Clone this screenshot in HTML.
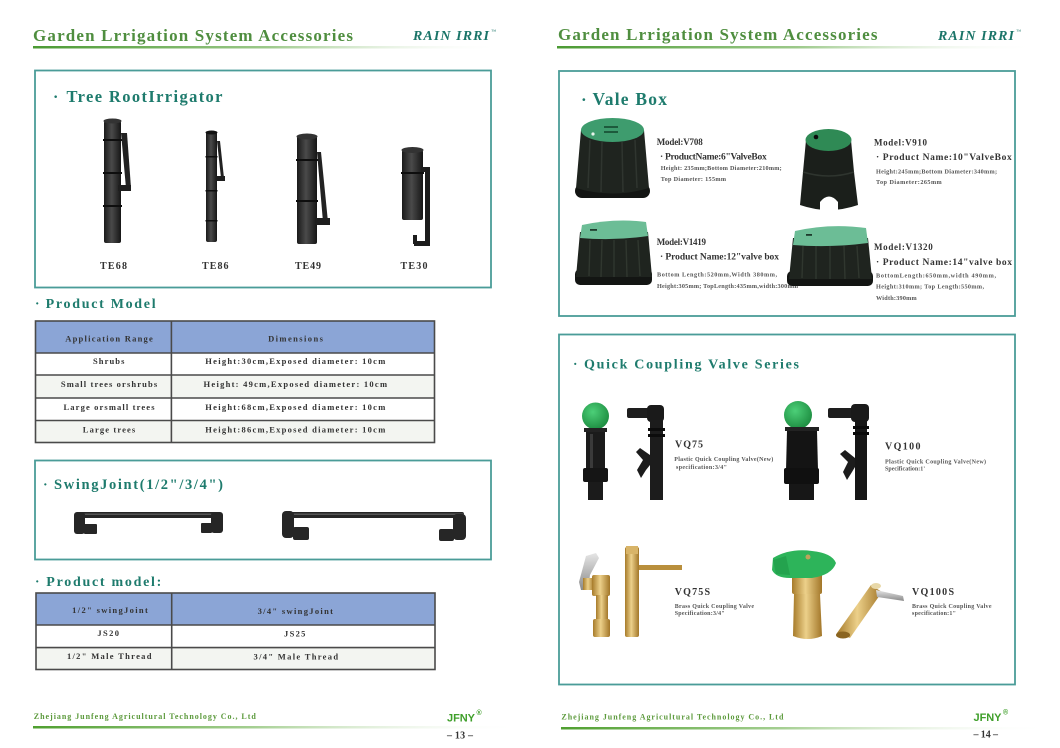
<!DOCTYPE html>
<html><head><meta charset="utf-8"><style>
html,body{margin:0;padding:0;background:#fff;}
svg{display:block;}
</style></head><body>
<svg width="1060" height="748" viewBox="0 0 1060 748" xmlns="http://www.w3.org/2000/svg" font-family="'Liberation Serif', serif">
<defs>
<linearGradient id="hl" x1="0" x2="1"><stop offset="0" stop-color="#4b9a33"/><stop offset="0.5" stop-color="#9cc98a"/><stop offset="1" stop-color="#ffffff" stop-opacity="0"/></linearGradient>
<linearGradient id="fl" x1="0" x2="1"><stop offset="0" stop-color="#4f9f2f"/><stop offset="0.45" stop-color="#a5cf92"/><stop offset="1" stop-color="#ffffff" stop-opacity="0"/></linearGradient>
<linearGradient id="brass" x1="0" x2="1"><stop offset="0" stop-color="#a77b2a"/><stop offset="0.45" stop-color="#ecd08a"/><stop offset="1" stop-color="#a27628"/></linearGradient>
<linearGradient id="tube" x1="0" x2="1"><stop offset="0" stop-color="#1a1a1a"/><stop offset="0.45" stop-color="#4a4a4a"/><stop offset="1" stop-color="#161616"/></linearGradient>
<linearGradient id="silver" x1="0" x2="0" y1="0" y2="1"><stop offset="0" stop-color="#e6e6e6"/><stop offset="1" stop-color="#8a8a8a"/></linearGradient>
<radialGradient id="ball" cx="0.4" cy="0.35" r="0.7"><stop offset="0" stop-color="#4ccf78"/><stop offset="1" stop-color="#1b8a3e"/></radialGradient>
</defs>
<rect width="1060" height="748" fill="#fff"/>

<!-- ================= LEFT PAGE ================= -->
<text x="33" y="41" font-size="17" font-weight="bold" fill="#4f8e3f" textLength="320" lengthAdjust="spacing">Garden Lrrigation System Accessories</text>
<text x="413" y="40" font-size="14" font-weight="bold" font-style="italic" fill="#1a7468" textLength="76" lengthAdjust="spacing">RAIN IRRI</text>
<text x="491" y="33" font-size="5" fill="#1a7468">™</text>
<rect x="33" y="46" width="470" height="2.5" fill="url(#hl)"/>

<rect x="35" y="70.5" width="456" height="217" fill="none" stroke="#4a9c98" stroke-width="1.8"/>
<text x="53" y="102" font-size="16" font-weight="bold" fill="#1e7b6d">·</text>
<text x="66.5" y="102" font-size="16.5" font-weight="bold" fill="#1e7b6d" textLength="156" lengthAdjust="spacing">Tree RootIrrigator</text>

<!-- TE68 -->
<g>
<rect x="104" y="121" width="17" height="122" rx="2" fill="url(#tube)"/>
<ellipse cx="112.5" cy="121" rx="9" ry="2.5" fill="#333"/>
<rect x="103" y="139" width="19" height="2" fill="#0e0e0e"/>
<rect x="103" y="172" width="19" height="2" fill="#0e0e0e"/>
<rect x="103" y="205" width="19" height="2" fill="#0e0e0e"/>
<path d="M121 133 L127 133 L131 188 L126 188 Z" fill="#222"/>
<rect x="118" y="185" width="13" height="6" fill="#1e1e1e"/>
</g>
<!-- TE86 -->
<g>
<rect x="206" y="132" width="11" height="110" rx="2" fill="url(#tube)"/>
<ellipse cx="211.5" cy="132.5" rx="6" ry="2" fill="#111"/>
<rect x="205.5" y="156" width="12" height="1.5" fill="#0e0e0e"/>
<rect x="205.5" y="190" width="12" height="1.5" fill="#0e0e0e"/>
<rect x="205.5" y="220" width="12" height="1.5" fill="#0e0e0e"/>
<path d="M217 141 L220 141 L224 178 L221 178 Z" fill="#222"/>
<rect x="216" y="176" width="9" height="5" fill="#1e1e1e"/>
</g>
<!-- TE49 -->
<g>
<rect x="297" y="136" width="20" height="108" rx="2" fill="url(#tube)"/>
<ellipse cx="307" cy="136.5" rx="10.5" ry="3" fill="#333"/>
<rect x="296" y="159" width="22" height="2" fill="#0e0e0e"/>
<rect x="296" y="200" width="22" height="2" fill="#0e0e0e"/>
<path d="M317 152 L321 152 L328 222 L323 222 Z" fill="#222"/>
<rect x="316" y="218" width="14" height="7" fill="#1e1e1e"/>
</g>
<!-- TE30 -->
<g>
<rect x="402" y="150" width="21" height="70" rx="2" fill="url(#tube)"/>
<ellipse cx="412.5" cy="150" rx="11" ry="3" fill="#333"/>
<rect x="401" y="172" width="23" height="2" fill="#0e0e0e"/>
<rect x="422" y="167" width="8" height="5" fill="#1e1e1e"/>
<rect x="425" y="168" width="5" height="78" fill="#1c1c1c"/>
<rect x="414" y="241" width="16" height="5" fill="#1c1c1c"/>
<rect x="413" y="235" width="4" height="9" fill="#1c1c1c"/>
</g>

<g font-size="10" font-weight="bold" fill="#333">
<text x="100" y="269" textLength="27" lengthAdjust="spacing">TE68</text>
<text x="202" y="269" textLength="26.5" lengthAdjust="spacing">TE86</text>
<text x="295" y="269" textLength="26" lengthAdjust="spacing">TE49</text>
<text x="400.5" y="269" textLength="27" lengthAdjust="spacing">TE30</text>
</g>

<text x="35" y="308" font-size="13.5" font-weight="bold" fill="#1e7b6d">·</text>
<text x="45.6" y="308" font-size="14" font-weight="bold" fill="#1e7b6d" textLength="110" lengthAdjust="spacing">Product Model</text>

<!-- Table 1 -->
<rect x="35.5" y="321" width="399" height="32" fill="#8ba5d6"/>
<rect x="35.5" y="375" width="399" height="23" fill="#f3f5f1"/>
<rect x="35.5" y="420.5" width="399" height="22" fill="#f3f5f1"/>
<g stroke="#4a4a4a" stroke-width="1.6" fill="none">
<rect x="35.5" y="321" width="399" height="121.5"/>
<line x1="35.5" y1="353" x2="434.5" y2="353"/>
<line x1="35.5" y1="375" x2="434.5" y2="375"/>
<line x1="35.5" y1="398" x2="434.5" y2="398"/>
<line x1="35.5" y1="420.5" x2="434.5" y2="420.5"/>
<line x1="171.4" y1="321" x2="171.4" y2="442.5"/>
</g>
<g font-size="8.5" font-weight="bold" fill="#333" text-anchor="middle">
<text x="109" y="341.5" textLength="87.6" lengthAdjust="spacing">Application Range</text>
<text x="295.5" y="341.5" textLength="54.8" lengthAdjust="spacing">Dimensions</text>
<text x="108.7" y="364" textLength="31.4" lengthAdjust="spacing">Shrubs</text>
<text x="109" y="387" textLength="96.3" lengthAdjust="spacing">Small trees orshrubs</text>
<text x="109" y="410" textLength="91" lengthAdjust="spacing">Large orsmall trees</text>
<text x="109" y="432.7" textLength="52.4" lengthAdjust="spacing">Large trees</text>
<text x="295.3" y="364" textLength="180" lengthAdjust="spacing">Height:30cm,Exposed diameter: 10cm</text>
<text x="295.3" y="387" textLength="183.5" lengthAdjust="spacing">Height: 49cm,Exposed diameter: 10cm</text>
<text x="295.3" y="410" textLength="180" lengthAdjust="spacing">Height:68cm,Exposed diameter: 10cm</text>
<text x="295.3" y="432.7" textLength="180" lengthAdjust="spacing">Height:86cm,Exposed diameter: 10cm</text>
</g>

<!-- SwingJoint box -->
<rect x="35" y="460.5" width="456" height="99" fill="none" stroke="#4a9c98" stroke-width="1.8"/>
<text x="43" y="489" font-size="14" font-weight="bold" fill="#1e7b6d">·</text>
<text x="54" y="489" font-size="14.5" font-weight="bold" fill="#1e7b6d" textLength="169" lengthAdjust="spacing">SwingJoint(1/2"/3/4")</text>
<!-- swing joint 1 -->
<g fill="#262626">
<rect x="78" y="512" width="142" height="6" rx="2"/>
<rect x="78" y="513.5" width="142" height="1.5" fill="#555"/>
<rect x="74" y="512" width="11" height="22" rx="3"/>
<rect x="84" y="524" width="13" height="10" rx="1"/>
<rect x="211" y="512" width="12" height="21" rx="3"/>
<rect x="201" y="523" width="11" height="10" rx="1"/>
</g>
<!-- swing joint 2 -->
<g fill="#262626">
<rect x="286" y="512" width="178" height="6" rx="2"/>
<rect x="286" y="513.5" width="178" height="1.5" fill="#555"/>
<rect x="282" y="511" width="12" height="27" rx="4"/>
<rect x="293" y="527" width="16" height="13" rx="2"/>
<rect x="453" y="514" width="13" height="26" rx="4"/>
<rect x="439" y="529" width="15" height="12" rx="2"/>
</g>

<text x="35" y="586" font-size="13.5" font-weight="bold" fill="#1e7b6d">·</text>
<text x="46.3" y="586" font-size="14" font-weight="bold" fill="#1e7b6d" textLength="115" lengthAdjust="spacing">Product model:</text>

<!-- Table 2 -->
<rect x="36" y="593" width="399" height="32" fill="#8ba5d6"/>
<rect x="36" y="647.6" width="399" height="22" fill="#f3f5f1"/>
<g stroke="#4a4a4a" stroke-width="1.6" fill="none">
<rect x="36" y="593" width="399" height="76.5"/>
<line x1="36" y1="625" x2="435" y2="625"/>
<line x1="36" y1="647.6" x2="435" y2="647.6"/>
<line x1="171.7" y1="593" x2="171.7" y2="669.5"/>
</g>
<g font-size="8.5" font-weight="bold" fill="#333" text-anchor="middle">
<text x="110" y="613" textLength="75.7" lengthAdjust="spacing">1/2" swingJoint</text>
<text x="295.3" y="614" textLength="75.4" lengthAdjust="spacing">3/4" swingJoint</text>
<text x="108.2" y="636" textLength="21.6" lengthAdjust="spacing">JS20</text>
<text x="294.7" y="636.5" textLength="21.3" lengthAdjust="spacing">JS25</text>
<text x="109.2" y="659" textLength="84.5" lengthAdjust="spacing">1/2" Male Thread</text>
<text x="295.8" y="659.5" textLength="84.5" lengthAdjust="spacing">3/4" Male Thread</text>
</g>

<!-- left footer -->
<text x="33.8" y="719" font-size="8" font-weight="bold" fill="#5c9a3c" textLength="222" lengthAdjust="spacing">Zhejiang Junfeng Agricultural Technology Co., Ltd</text>
<rect x="33" y="726" width="490" height="2.5" fill="url(#fl)"/>
<text x="447" y="721.5" font-family="'Liberation Sans', sans-serif" font-size="11" font-weight="bold" fill="#3f9f2a" textLength="28" lengthAdjust="spacing">JFNY</text>
<text x="476.5" y="715" font-family="'Liberation Sans', sans-serif" font-size="7" font-weight="bold" fill="#3f9f2a">®</text>
<text x="447" y="738.5" font-size="10" font-weight="bold" fill="#333" textLength="26" lengthAdjust="spacing">– 13 –</text>

<!-- ================= RIGHT PAGE ================= -->
<text x="558" y="40" font-size="17" font-weight="bold" fill="#4f8e3f" textLength="319.5" lengthAdjust="spacing">Garden Lrrigation System Accessories</text>
<text x="938" y="40" font-size="14" font-weight="bold" font-style="italic" fill="#1a7468" textLength="76" lengthAdjust="spacing">RAIN IRRI</text>
<text x="1016" y="33" font-size="5" fill="#1a7468">™</text>
<rect x="557" y="46" width="480" height="2.5" fill="url(#hl)"/>

<rect x="559" y="71" width="456" height="245" fill="none" stroke="#4a9c98" stroke-width="1.8"/>
<text x="581" y="104.8" font-size="17" font-weight="bold" fill="#1e7b6d">·</text>
<text x="592.5" y="104.8" font-size="17.5" font-weight="bold" fill="#1e7b6d" textLength="74.5" lengthAdjust="spacing">Vale Box</text>

<!-- V708 -->
<g>
<rect x="575" y="184" width="75" height="14" rx="7" fill="#131513"/>
<path d="M581 130 L644 130 L649 188 Q612 199 576 188 Z" fill="#1f241f"/>
<g stroke="#2f352f" stroke-width="1.5"><line x1="590" y1="140" x2="588" y2="188"/><line x1="602" y1="142" x2="601" y2="192"/><line x1="622" y1="142" x2="623" y2="192"/><line x1="635" y1="140" x2="637" y2="188"/></g>
<ellipse cx="612.5" cy="130" rx="31.5" ry="12" fill="#3e9c6e"/>
<rect x="604" y="126" width="14" height="2" fill="#1d5a3c"/><rect x="604" y="131" width="14" height="2" fill="#1d5a3c"/>
<circle cx="593" cy="134" r="1.6" fill="#e8f4ec"/>
</g>
<g fill="#333" font-weight="bold">
<text x="656.7" y="145" font-size="9" textLength="46" lengthAdjust="spacing">Model:V708</text>
<text x="660" y="159.3" font-size="9.5" textLength="106.7" lengthAdjust="spacing">· ProductName:6"ValveBox</text>
<text x="660.7" y="170" font-size="6.2" fill="#555" textLength="121" lengthAdjust="spacing">Height: 235mm;Bottom Diameter:210mm;</text>
<text x="660.7" y="181" font-size="6.2" fill="#555" textLength="65.3" lengthAdjust="spacing">Top Diameter: 155mm</text>
</g>

<!-- V910 -->
<g>
<path d="M806 140 L851 140 L854 172 L858 205 Q829 215 800 205 L803 172 Z" fill="#1b1f1b"/>
<path d="M803 172 Q829 180 854 172" stroke="#2f352f" stroke-width="1.5" fill="none"/>
<ellipse cx="828.5" cy="140" rx="23" ry="11" fill="#2f8a55"/>
<circle cx="816" cy="137" r="2.3" fill="#0b0b0b"/>
<path d="M820 213 L820 202 Q829 191 838 202 L838 213 Z" fill="#fff"/>
</g>
<g fill="#333" font-weight="bold">
<text x="874" y="145.7" font-size="9" textLength="53" lengthAdjust="spacing">Model:V910</text>
<text x="876" y="160" font-size="9.5" textLength="135.7" lengthAdjust="spacing">· Product Name:10"ValveBox</text>
<text x="876" y="173.3" font-size="6.2" fill="#555" textLength="121" lengthAdjust="spacing">Height:245mm;Bottom  Diameter:340mm;</text>
<text x="876" y="184" font-size="6.2" fill="#555" textLength="65.7" lengthAdjust="spacing">Top  Diameter:265mm</text>
</g>

<!-- V1419 -->
<g>
<rect x="575" y="269" width="77" height="16" rx="5" fill="#131513"/>
<path d="M580 232 L648 232 L652 277 L576 277 Z" fill="#1f241f"/>
<g stroke="#30372f" stroke-width="1.4"><line x1="590" y1="240" x2="589" y2="276"/><line x1="602" y1="240" x2="601" y2="277"/><line x1="614" y1="240" x2="614" y2="277"/><line x1="626" y1="240" x2="627" y2="277"/><line x1="638" y1="240" x2="640" y2="276"/></g>
<path d="M582 225 Q615 218 646 222 L648 236 Q614 241 580 238 Z" fill="#6cbd96"/>
<rect x="590" y="229" width="7" height="1.8" fill="#1d3a2c"/>
</g>
<g fill="#333" font-weight="bold">
<text x="656.7" y="245" font-size="9" textLength="49.3" lengthAdjust="spacing">Model:V1419</text>
<text x="660" y="259.3" font-size="9.5" textLength="119" lengthAdjust="spacing">· Product  Name:12"valve  box</text>
<text x="657" y="276.7" font-size="6.2" fill="#555" textLength="120" lengthAdjust="spacing">Bottom   Length:520mm,Width    380mm,</text>
<text x="657" y="288" font-size="6.2" fill="#555" textLength="141" lengthAdjust="spacing">Height:305mm; TopLength:435mm,width:300mm</text>
</g>

<!-- V1320 -->
<g>
<rect x="787" y="271" width="86" height="15" rx="5" fill="#131513"/>
<path d="M793 238 L868 238 L872 279 L789 279 Z" fill="#1f241f"/>
<g stroke="#30372f" stroke-width="1.4"><line x1="803" y1="246" x2="802" y2="278"/><line x1="816" y1="246" x2="816" y2="279"/><line x1="830" y1="246" x2="830" y2="279"/><line x1="844" y1="246" x2="845" y2="279"/><line x1="857" y1="246" x2="859" y2="278"/></g>
<path d="M795 231 Q830 223 866 228 L868 243 Q830 248 793 245 Z" fill="#6cbd96"/>
<rect x="806" y="234" width="6" height="1.8" fill="#1d3a2c"/>
</g>
<g fill="#333" font-weight="bold">
<text x="874" y="250" font-size="9" textLength="58.7" lengthAdjust="spacing">Model:V1320</text>
<text x="876" y="265" font-size="9.5" textLength="136" lengthAdjust="spacing">· Product Name:14"valve box</text>
<text x="876" y="277.3" font-size="6.2" fill="#555" textLength="120" lengthAdjust="spacing">BottomLength:650mm,width       490mm,</text>
<text x="876" y="288.3" font-size="6.2" fill="#555" textLength="108" lengthAdjust="spacing">Height:310mm; Top    Length:550mm,</text>
<text x="876" y="300" font-size="6.2" fill="#555" textLength="40.7" lengthAdjust="spacing">Width:390mm</text>
</g>

<!-- Quick coupling box -->
<rect x="559" y="334.5" width="456" height="350" fill="none" stroke="#4a9c98" stroke-width="1.8"/>
<text x="573" y="368.3" font-size="13.5" font-weight="bold" fill="#1e7b6d">·</text>
<text x="584" y="368.3" font-size="14" font-weight="bold" fill="#1e7b6d" textLength="215" lengthAdjust="spacing">Quick Coupling Valve Series</text>

<!-- VQ75 -->
<g>
<circle cx="595.5" cy="416" r="13.5" fill="url(#ball)"/>
<rect x="584" y="428" width="23" height="4" fill="#222"/>
<rect x="586" y="432" width="19" height="38" fill="#1b1b1b"/>
<rect x="590" y="434" width="3" height="34" fill="#3a3a3a"/>
<rect x="583" y="468" width="25" height="14" rx="2" fill="#151515"/>
<rect x="588" y="482" width="15" height="18" fill="#1b1b1b"/>
<rect x="627" y="408" width="24" height="10" rx="2" fill="#1e1e1e"/>
<rect x="647" y="405" width="17" height="17" rx="4" fill="#1a1a1a"/>
<rect x="650" y="420" width="13" height="80" fill="#1c1c1c"/>
<rect x="648" y="428" width="17" height="3" fill="#0c0c0c"/><rect x="648" y="434" width="17" height="3" fill="#0c0c0c"/>
<path d="M650 455 L640 448 L636 452 L643 460 L637 470 L641 478 L646 470 L650 465 Z" fill="#1c1c1c"/>
</g>
<g fill="#333" font-weight="bold">
<text x="675" y="447.3" font-size="10" textLength="28" lengthAdjust="spacing">VQ75</text>
<text x="674.3" y="461" font-size="6" fill="#555" textLength="99" lengthAdjust="spacing">Plastic Quick Coupling Valve(New)</text>
<text x="676" y="469" font-size="6" fill="#555" textLength="51" lengthAdjust="spacing">specification:3/4"</text>
</g>

<!-- VQ100 -->
<g>
<circle cx="798" cy="415" r="14" fill="url(#ball)"/>
<rect x="785" y="427" width="34" height="4" fill="#222"/>
<path d="M787 431 L817 431 L818 470 L786 470 Z" fill="#141414"/>
<rect x="784" y="468" width="35" height="16" rx="2" fill="#101010"/>
<rect x="789" y="484" width="25" height="16" fill="#171717"/>
<rect x="828" y="408" width="28" height="10" rx="2" fill="#1e1e1e"/>
<rect x="851" y="404" width="18" height="18" rx="4" fill="#1a1a1a"/>
<rect x="855" y="420" width="12" height="80" fill="#161616"/>
<rect x="853" y="426" width="16" height="3" fill="#0a0a0a"/><rect x="853" y="432" width="16" height="3" fill="#0a0a0a"/>
<path d="M855 458 L845 450 L840 454 L848 462 L843 472 L847 480 L852 472 L855 467 Z" fill="#1c1c1c"/>
</g>
<g fill="#333" font-weight="bold">
<text x="885" y="449.5" font-size="10" textLength="35.5" lengthAdjust="spacing">VQ100</text>
<text x="885" y="463.7" font-size="6" fill="#555" textLength="101" lengthAdjust="spacing">Plastic Quick Coupling Valve(New)</text>
<text x="885" y="470.6" font-size="6" fill="#555" textLength="40" lengthAdjust="spacing">Specification:1'</text>
</g>

<!-- VQ75S -->
<g>
<path d="M579 582 L586 556 L596 553 L599 558 L590 575 L588 590 L581 590 Z" fill="url(#silver)"/>
<rect x="583" y="578" width="11" height="12" fill="url(#brass)"/>
<rect x="592" y="575" width="18" height="21" rx="2" fill="url(#brass)"/>
<rect x="596" y="595" width="12" height="25" fill="url(#brass)"/>
<rect x="593" y="619" width="17" height="18" rx="2" fill="url(#brass)"/>
<rect x="625" y="547" width="14" height="90" rx="2" fill="url(#brass)"/>
<rect x="626" y="546" width="12" height="8" fill="#d8b468"/>
<rect x="639" y="565" width="43" height="5" fill="#b98f3c"/>
</g>
<g fill="#333" font-weight="bold">
<text x="674.7" y="595" font-size="10" textLength="35.3" lengthAdjust="spacing">VQ75S</text>
<text x="674.7" y="607.8" font-size="6" fill="#555" textLength="79.3" lengthAdjust="spacing">Brass Quick Coupling Valve</text>
<text x="674.7" y="614.8" font-size="6" fill="#555" textLength="50" lengthAdjust="spacing">Specification:3/4"</text>
</g>

<!-- VQ100S -->
<g>
<rect x="792" y="572" width="30" height="22" rx="2" fill="url(#brass)"/>
<path d="M794 594 L820 594 L822 636 Q808 642 793 636 Z" fill="url(#brass)"/>
<path d="M773 558 Q790 548 812 551 Q832 553 836 563 Q832 575 812 578 L790 578 Q776 578 772 570 Z" fill="#2db45a"/>
<path d="M773 560 L786 556 L790 575 L776 574 Z" fill="#24a34e"/>
<circle cx="808" cy="557" r="2.5" fill="#bfa35a"/>
<polygon points="837,633 850,638 882,592 871,585" fill="url(#brass)"/>
<ellipse cx="843" cy="635" rx="7" ry="3.5" fill="#8a6420"/>
<polygon points="876,590 903,596 904,601 877,597" fill="url(#silver)"/>
<ellipse cx="876" cy="586" rx="5" ry="3" fill="#e8d8a8"/>
</g>
<g fill="#333" font-weight="bold">
<text x="912" y="595" font-size="10" textLength="42" lengthAdjust="spacing">VQ100S</text>
<text x="912" y="607.8" font-size="6" fill="#555" textLength="79.5" lengthAdjust="spacing">Brass Quick Coupling Valve</text>
<text x="912" y="614.8" font-size="6" fill="#555" textLength="44" lengthAdjust="spacing">specification:1"</text>
</g>

<!-- right footer -->
<text x="561.4" y="719.3" font-size="8" font-weight="bold" fill="#5c9a3c" textLength="222" lengthAdjust="spacing">Zhejiang Junfeng Agricultural Technology Co., Ltd</text>
<rect x="561" y="727" width="490" height="2.5" fill="url(#fl)"/>
<text x="973.5" y="721" font-family="'Liberation Sans', sans-serif" font-size="11" font-weight="bold" fill="#3f9f2a" textLength="28" lengthAdjust="spacing">JFNY</text>
<text x="1003" y="714.5" font-family="'Liberation Sans', sans-serif" font-size="7" font-weight="bold" fill="#3f9f2a">®</text>
<text x="973.5" y="737.5" font-size="10" font-weight="bold" fill="#333" textLength="24.5" lengthAdjust="spacing">– 14 –</text>
</svg>
</body></html>
